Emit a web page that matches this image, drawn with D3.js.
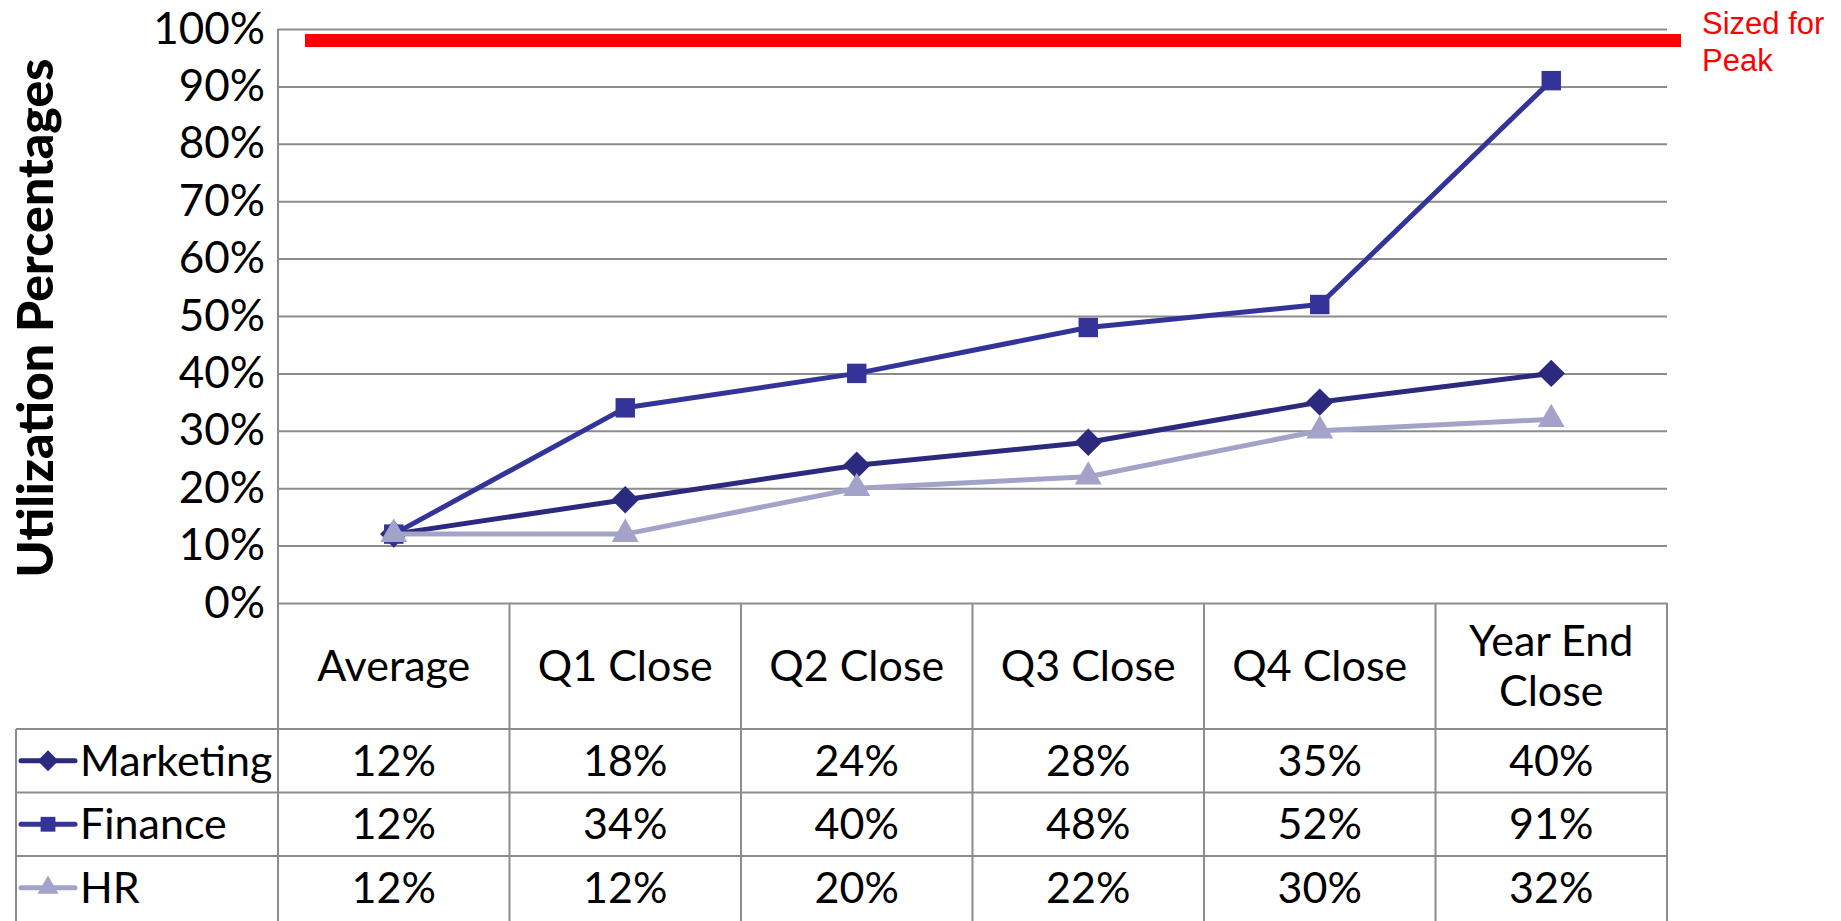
<!DOCTYPE html>
<html>
<head>
<meta charset="utf-8">
<script src="https://cdn.jsdelivr.net/npm/d3@7"></script>
<style>
  body { margin: 0; background: #fff; }
  svg { display: block; }
</style>
</head>
<body>
<div id="chart"></div>
<script>
      // data
      var categories = ["Average", "Q1 Close", "Q2 Close", "Q3 Close", "Q4 Close", "Year End Close"];
      var seriesNames = ["Marketing", "Finance", "HR"];
      var marketing = [0.12, 0.18, 0.24, 0.28, 0.35, 0.40];
      var finance = [0.12, 0.34, 0.40, 0.48, 0.52, 0.91];
      var hr = [0.12, 0.12, 0.20, 0.22, 0.30, 0.32];
      var yTicks = [0, 0.1, 0.2, 0.3, 0.4, 0.5, 0.6, 0.7, 0.8, 0.9, 1.0];
      var peakLevel = 0.98;
      var peakLabel = ["Sized for", "Peak"];
      var yTitle = "Utilization Percentages";

      var seriesValues = [marketing, finance, hr];
      var colors = ["#2c2a7f", "#333399", "#a3a3c9"];
      var symbols = [d3.symbolDiamond2, d3.symbolSquare2, d3.symbolTriangle2];

      var W = 1841, H = 921;
      var plot = {left: 278, right: 1667, top: 29, bottom: 603};
      var rowH = 63.5, headerBottom = 729, legendLeft = 16;
      var gridColor = "#8c8c8c";
      var font = "Lato, 'DejaVu Sans', sans-serif";

      var svg = d3.select("#chart").append("svg")
          .attr("width", W)
          .attr("height", H);

      ////// Scales /////////////////
      var xScale = d3.scaleBand()
          .domain(categories)
          .range([plot.left, plot.right]);
      var yScale = d3.scaleLinear()
          .domain([0, 1])
          .range([plot.bottom, plot.top]);

      // gridlines
      var yGrid = d3.axisLeft(yScale).tickValues(yTicks).tickSize(-(plot.right - plot.left)).tickFormat("");
      svg.append("g")
          .attr("transform", "translate(" + plot.left + ",0)")
          .call(yGrid)
          .call(function(g) { g.select(".domain").remove(); })
          .selectAll("line")
          .attr("stroke", gridColor)
          .attr("stroke-width", 2);

      // y labels
      var yAxis = d3.axisLeft(yScale).tickValues(yTicks).tickSize(0).tickPadding(13).tickFormat(d3.format(".0%"));
      svg.append("g")
          .attr("transform", "translate(" + plot.left + ",0)")
          .call(yAxis)
          .call(function(g) { g.select(".domain").remove(); })
          .selectAll("text")
          .attr("font-family", font)
          .attr("font-size", 44)
          .attr("fill", "#000");

      // y title
      svg.append("text")
          .attr("transform", "translate(53," + ((plot.top + plot.bottom) / 2 + 2) + ") rotate(-90)")
          .attr("text-anchor", "middle")
          .attr("font-family", font)
          .attr("font-weight", 900)
          .attr("font-size", 50)
          .attr("fill", "#000")
          .text(yTitle);

      // table lines
      var tableBottom = H;
      var lines = svg.append("g").attr("stroke", gridColor).attr("stroke-width", 2);
      // vertical column separators
      var edges = categories.map(function(c) { return xScale(c); }).concat([plot.right]);
      edges.forEach(function(x, i) {
          lines.append("line")
              .attr("x1", x).attr("x2", x)
              .attr("y1", i === 0 ? plot.top : plot.bottom)
              .attr("y2", tableBottom);
      });
      lines.append("line")
          .attr("x1", legendLeft).attr("x2", legendLeft)
          .attr("y1", headerBottom).attr("y2", tableBottom);
      seriesNames.forEach(function(s, i) {
          var y = headerBottom + i * rowH;
          lines.append("line")
              .attr("x1", legendLeft).attr("x2", plot.right)
              .attr("y1", y).attr("y2", y);
      });

      // category headers (wrap when too wide)
      var header = svg.append("g")
          .attr("font-family", font)
          .attr("font-size", 43)
          .attr("text-anchor", "middle")
          .attr("fill", "#000");
      categories.forEach(function(c) {
          var cx = xScale(c) + xScale.bandwidth() / 2;
          var t = header.append("text").attr("x", cx).text(c);
          var parts = [c];
          if (t.node().getComputedTextLength() > xScale.bandwidth() - 20) {
              var k = c.lastIndexOf(" ");
              parts = [c.slice(0, k), c.slice(k + 1)];
          }
          t.text(null);
          var mid = (plot.bottom + headerBottom) / 2;
          var lh = 50;
          parts.forEach(function(p, j) {
              t.append("tspan")
                  .attr("x", cx)
                  .attr("y", mid + 15 + (j - (parts.length - 1) / 2) * lh)
                  .text(p);
          });
      });

      // lines + markers
      var line = d3.line()
          .x(function(d, i) { return xScale(categories[i]) + xScale.bandwidth() / 2; })
          .y(function(d) { return yScale(d); });

      seriesValues.forEach(function(vals, si) {
          var g = svg.append("g");
          g.append("path")
              .datum(vals)
              .attr("d", line)
              .attr("fill", "none")
              .attr("stroke", colors[si])
              .attr("stroke-width", 5)
              .attr("stroke-linejoin", "round");
          g.selectAll("path.m")
              .data(vals)
              .enter()
              .append("path")
              .attr("class", "m")
              .attr("d", d3.symbol().type(symbols[si]).size(si === 2 ? 520 : 480))
              .attr("transform", function(d, i) {
                  return "translate(" + (xScale(categories[i]) + xScale.bandwidth() / 2) + "," + yScale(d) + ")";
              })
              .attr("fill", colors[si]);
      });

      // peak line
      svg.append("line")
          .attr("x1", plot.left + 27)
          .attr("x2", plot.right + 14)
          .attr("y1", yScale(peakLevel))
          .attr("y2", yScale(peakLevel))
          .attr("stroke", "#ff0000")
          .attr("stroke-width", 13);

      svg.append("text")
          .attr("x", 1702)
          .attr("font-family", "'Liberation Sans', Arial, sans-serif")
          .attr("font-size", 31)
          .attr("fill", "#ff0000")
          .selectAll("tspan")
          .data(peakLabel)
          .enter()
          .append("tspan")
          .attr("x", 1702)
          .attr("y", function(d, i) { return 34 + i * 37; })
          .text(function(d) { return d; });

      // table rows
      seriesNames.forEach(function(name, si) {
          var top = headerBottom + si * rowH;
          var cy = top + rowH / 2;
          // legend key
          svg.append("line")
              .attr("x1", 21).attr("x2", 75)
              .attr("y1", cy).attr("y2", cy)
              .attr("stroke", colors[si])
              .attr("stroke-width", 5)
              .attr("stroke-linecap", "round");
          svg.append("path")
              .attr("d", d3.symbol().type(symbols[si]).size(si === 2 ? 320 : 280))
              .attr("transform", "translate(48," + cy + ")")
              .attr("fill", colors[si]);
          svg.append("text")
              .attr("x", 80)
              .attr("y", cy + 15)
              .attr("font-family", font)
              .attr("font-size", 43)
              .attr("fill", "#000")
              .text(name);
          svg.append("g")
              .selectAll("text")
              .data(seriesValues[si])
              .enter()
              .append("text")
              .attr("x", function(d, i) { return xScale(categories[i]) + xScale.bandwidth() / 2; })
              .attr("y", cy + 15)
              .attr("text-anchor", "middle")
              .attr("font-family", font)
              .attr("font-size", 43)
              .attr("fill", "#000")
              .text(function(d) { return d3.format(".0%")(d); });
      });
</script>
</body>
</html>
